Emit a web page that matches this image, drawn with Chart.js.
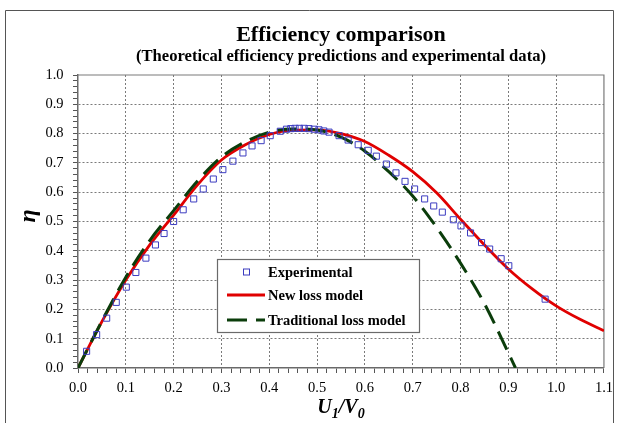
<!DOCTYPE html>
<html>
<head>
<meta charset="utf-8">
<script src="https://cdn.jsdelivr.net/npm/chart.js@4"></script>
<style>
  html, body { margin: 0; padding: 0; background: #fff; }
  canvas { display: block; }
</style>
</head>
<body>
<canvas id="chart" width="619" height="423"></canvas>
<script>
// Valores (U1/V0 -> eta)
const expX = [0.018, 0.039, 0.060, 0.080, 0.101, 0.121, 0.142, 0.162, 0.180, 0.200,
              0.220, 0.242, 0.262, 0.283, 0.303, 0.324, 0.345, 0.364, 0.383, 0.402,
              0.423, 0.436, 0.445, 0.454, 0.463, 0.473, 0.483, 0.494, 0.504, 0.514,
              0.525, 0.546, 0.565, 0.586, 0.607, 0.624, 0.645, 0.665, 0.684, 0.704,
              0.725, 0.744, 0.762, 0.785, 0.801, 0.821, 0.844, 0.861, 0.885, 0.901, 0.977];
const expY = [0.057, 0.114, 0.170, 0.224, 0.276, 0.326, 0.375, 0.420, 0.459, 0.500,
              0.540, 0.577, 0.611, 0.645, 0.677, 0.706, 0.734, 0.758, 0.776, 0.793,
              0.808, 0.815, 0.817, 0.818, 0.818, 0.818, 0.817, 0.815, 0.813, 0.809,
              0.805, 0.793, 0.778, 0.762, 0.743, 0.723, 0.696, 0.666, 0.637, 0.611,
              0.577, 0.553, 0.532, 0.506, 0.485, 0.461, 0.428, 0.406, 0.373, 0.349, 0.235];

const newX = [0, 0.05, 0.10, 0.15, 0.20, 0.25, 0.30, 0.35, 0.40, 0.45, 0.50, 0.55,
              0.60, 0.65, 0.70, 0.75, 0.80, 0.85, 0.90, 0.95, 1.00, 1.05, 1.10];
const newY = [0, 0.158, 0.300, 0.420, 0.522, 0.625, 0.710, 0.762, 0.797, 0.812, 0.813, 0.800,
              0.773, 0.726, 0.670, 0.598, 0.508, 0.420, 0.338, 0.270, 0.212, 0.166, 0.127];

const tradX = [0, 0.05, 0.10, 0.15, 0.20, 0.25, 0.30, 0.35, 0.40, 0.45, 0.50, 0.55,
               0.60, 0.65, 0.70, 0.75, 0.80, 0.85, 0.90, 0.915];
const tradY = [0, 0.160, 0.310, 0.435, 0.537, 0.638, 0.720, 0.772, 0.805, 0.816, 0.812, 0.788,
               0.740, 0.670, 0.587, 0.480, 0.358, 0.220, 0.052, 0];

const xTickLabels = ['0.0', '0.1', '0.2', '0.3', '0.4', '0.5', '0.6', '0.7', '0.8', '0.9', '1.0', '1.1'];
const yTickLabels = ['0.0', '0.1', '0.2', '0.3', '0.4', '0.5', '0.6', '0.7', '0.8', '0.9', '1.0'];

const SERIF = '"Liberation Serif", "Times New Roman", serif';
const BLUE  = '#3c3cc0';
const RED   = '#e00000';
const GREEN = '#0b3d0b';

const pts = (xs, ys) => xs.map((x, i) => ({ x, y: ys[i] }));
const hundredths = v => Math.round(v * 100);
const isMajor = v => hundredths(v) % 10 === 0;

// ticks menores a cada 0.02
function minorTicks(max) {
  const out = [];
  for (let i = 0; i <= Math.round(max * 50); i++) out.push({ value: i / 50 });
  return out;
}

function axis(max, labels) {
  return {
    type: 'linear', min: 0, max,
    afterBuildTicks: s => { s.ticks = minorTicks(max); },
    ticks: {
      autoSkip: false, maxRotation: 0, color: '#000',
      font: { family: SERIF, size: 14.5 },
      callback: v => isMajor(v) ? labels[hundredths(v) / 10] : ''
    },
    grid: {
      color: c => (isMajor(c.tick.value) && c.tick.value > 0 && c.tick.value < max - 1e-9) ? '#7a7a7a' : 'rgba(0,0,0,0)',
      tickColor: '#555', tickLength: 5, tickWidth: 1, tickBorderDash: [], lineWidth: 1
    },
    border: { color: '#6a6a6a', width: 1.5, dash: [2, 2] }
  };
}

const xAxis = axis(1.1, xTickLabels);
xAxis.ticks.padding = 6;
xAxis.afterFit = s => { s.height = 32; };
const yAxis = axis(1.0, yTickLabels);
yAxis.ticks.padding = 9.5;
yAxis.afterFit = s => { s.width = 38; };

const decor = {
  id: 'decor',
  beforeDraw(chart) {
    const ctx = chart.ctx;
    ctx.save();
    ctx.fillStyle = '#fff';
    ctx.fillRect(0, 0, chart.width, chart.height);
    ctx.strokeStyle = '#555';
    ctx.lineWidth = 1;
    ctx.beginPath();
    ctx.moveTo(5.5, 423); ctx.lineTo(5.5, 10.5); ctx.lineTo(613.5, 10.5); ctx.lineTo(613.5, 423);
    ctx.stroke();
    ctx.restore();
  },
  beforeDatasetsDraw(chart) {
    const { ctx, chartArea: a } = chart;
    ctx.save();
    ctx.strokeStyle = '#7a7a7a';
    ctx.lineWidth = 1.2;
    ctx.beginPath();
    ctx.moveTo(a.left, a.top); ctx.lineTo(a.right, a.top); ctx.lineTo(a.right, a.bottom);
    ctx.stroke();
    ctx.restore();
  },
  afterDraw(chart) {
    const { ctx, chartArea: a } = chart;
    const cx = (a.left + a.right) / 2;
    ctx.save();
    ctx.fillStyle = '#000';
    ctx.textAlign = 'center';
    ctx.textBaseline = 'alphabetic';
    ctx.font = `bold 22px ${SERIF}`;
    ctx.fillText('Efficiency comparison', cx, 41);
    ctx.font = `bold 16.6px ${SERIF}`;
    ctx.fillText('(Theoretical efficiency predictions and experimental data)', cx, 61);

    // eixo y: eta
    ctx.save();
    ctx.translate(29, 216);
    ctx.rotate(-Math.PI / 2);
    ctx.font = `italic bold 24px ${SERIF}`;
    ctx.textBaseline = 'middle';
    ctx.fillText('\u03B7', 0, 0);
    ctx.restore();

    // eixo x: U1/V0 com subscritos
    const parts = [['U', 0, 20], ['1', 5, 14], ['/', 0, 20], ['V', 0, 20], ['0', 5, 14]];
    let w = 0;
    parts.forEach(p => { ctx.font = `italic bold ${p[2]}px ${SERIF}`; p.push(ctx.measureText(p[0]).width); w += p[3]; });
    let x = cx - w / 2;
    ctx.textAlign = 'left';
    parts.forEach(p => {
      ctx.font = `italic bold ${p[2]}px ${SERIF}`;
      ctx.fillText(p[0], x, 413 + p[1]);
      x += p[3];
    });

    // legenda
    const L = { x: 217, y: 259, w: 202, h: 73 };
    ctx.fillStyle = '#fff';
    ctx.fillRect(L.x, L.y, L.w, L.h);
    ctx.strokeStyle = '#6a6a6a';
    ctx.lineWidth = 1.2;
    ctx.strokeRect(L.x + 0.5, L.y + 0.5, L.w, L.h);
    const ds = chart.data.datasets;
    const rows = [272, 295, 320];
    ctx.font = `bold 14.5px ${SERIF}`;
    ctx.textBaseline = 'middle';
    ds.forEach((d, i) => {
      const y = rows[i];
      ctx.save();
      if (d.showLine) {
        ctx.strokeStyle = d.borderColor;
        ctx.lineWidth = d.borderWidth;
        ctx.setLineDash(d.borderDash || []);
        ctx.beginPath(); ctx.moveTo(227, y); ctx.lineTo(265, y); ctx.stroke();
      } else {
        ctx.strokeStyle = d.borderColor;
        ctx.lineWidth = 1;
        ctx.strokeRect(243.5, y - 3, 6, 6);
      }
      ctx.restore();
      ctx.fillStyle = '#000';
      ctx.fillText(d.label, 268, y + 1);
    });
    ctx.restore();
  }
};

new Chart(document.getElementById('chart'), {
  type: 'scatter',
  data: {
    datasets: [
      {
        label: 'Experimental',
        data: pts(expX, expY),
        pointStyle: 'rect', pointRadius: 4.3, borderWidth: 1,
        borderColor: BLUE, backgroundColor: 'rgba(0,0,0,0)', order: 1
      },
      {
        label: 'New loss model',
        data: pts(newX, newY),
        showLine: true, pointRadius: 0, borderWidth: 2.8,
        borderColor: RED, cubicInterpolationMode: 'monotone', order: 3
      },
      {
        label: 'Traditional loss model',
        data: pts(tradX, tradY),
        showLine: true, pointRadius: 0, borderWidth: 3,
        borderColor: GREEN, borderDash: [20, 9], cubicInterpolationMode: 'monotone', order: 2
      }
    ]
  },
  options: {
    responsive: false,
    animation: false,
    layout: { padding: { left: 40, top: 75, right: 14, bottom: 23 } },
    plugins: { legend: { display: false }, tooltip: { enabled: false }, title: { display: false } },
    scales: { x: xAxis, y: yAxis }
  },
  plugins: [decor]
});
</script>
</body>
</html>
